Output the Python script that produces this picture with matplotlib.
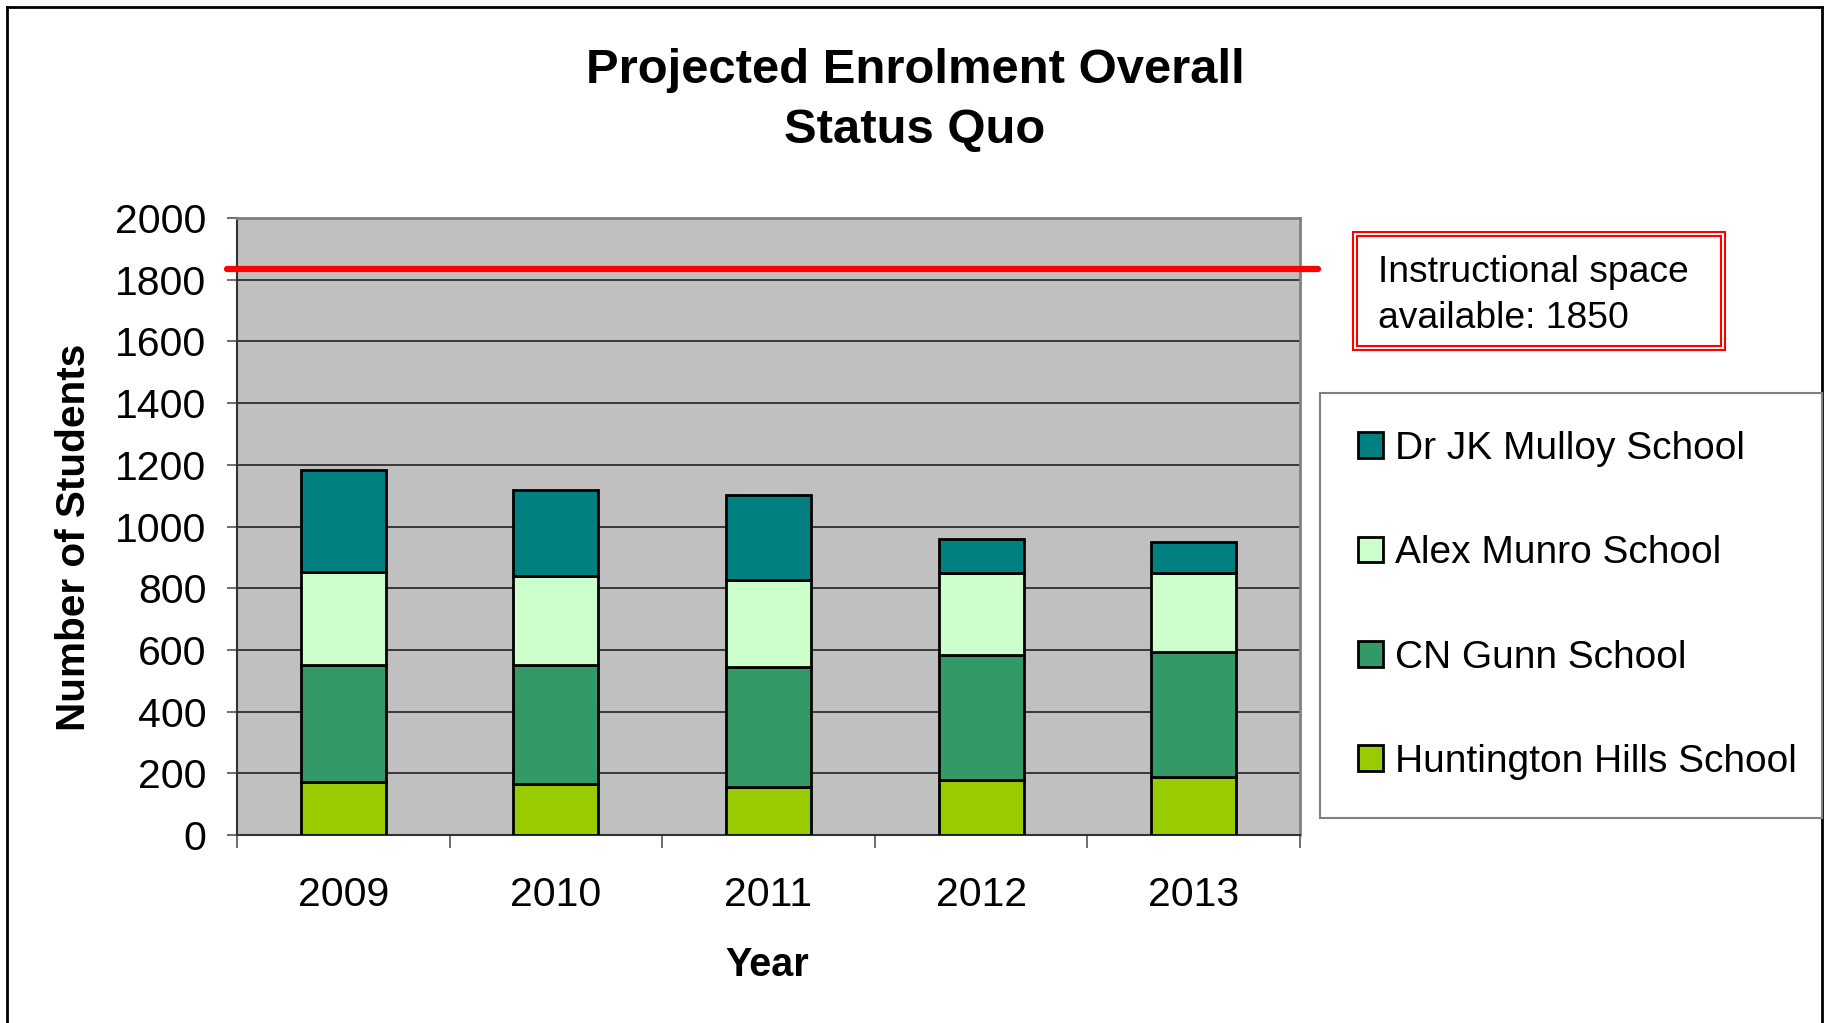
import matplotlib
matplotlib.use("Agg")
import matplotlib.pyplot as plt
from matplotlib.patches import Rectangle, Patch
from matplotlib.lines import Line2D
import numpy as np

# ---- data ----
years = ["2009", "2010", "2011", "2012", "2013"]
huntington = [172, 164, 155, 179, 188]
cn_gunn = [378, 386, 388, 406, 404]
alex_munro = [303, 289, 284, 263, 256]
mulloy = [330, 279, 275, 112, 103]
series_names = ["Huntington Hills School", "CN Gunn School", "Alex Munro School", "Dr JK Mulloy School"]
series_colors = ["#99CC00", "#339966", "#CCFFCC", "#008080"]
capacity_line = 1835
capacity_text = "Instructional space\navailable: 1850"
yticks = [0, 200, 400, 600, 800, 1000, 1200, 1400, 1600, 1800, 2000]

FONT = "Liberation Sans"
plt.rcParams["font.family"] = [FONT, "DejaVu Sans"]

W, H = 1828, 1023
fig = plt.figure(figsize=(W / 100, H / 100), dpi=100)
fig.patch.set_facecolor("white")

def fx(px):
    return px / W

def fy(py):
    return 1 - py / H

# figure border (open at bottom)
fig.add_artist(Line2D([fx(7), fx(7)], [fy(7), 0], transform=fig.transFigure, color="black", lw=2))
fig.add_artist(Line2D([fx(7), fx(1822)], [fy(7), fy(7)], transform=fig.transFigure, color="black", lw=2))
fig.add_artist(Line2D([fx(1822), fx(1822)], [fy(7), 0], transform=fig.transFigure, color="black", lw=2))

ax_l, ax_r, ax_t, ax_b = 237, 1300, 218, 835
ax = fig.add_axes([fx(ax_l), fy(ax_b), fx(ax_r - ax_l), (ax_b - ax_t) / H])
ax.set_facecolor("#C0C0C0")

x = np.arange(len(years))
series = [huntington, cn_gunn, alex_munro, mulloy]
bottom = np.zeros(len(years))
for vals, name, col in zip(series, series_names, series_colors):
    ax.bar(x, vals, width=0.4, bottom=bottom, color=col, edgecolor="black",
           linewidth=2, label=name, zorder=3)
    bottom = bottom + np.array(vals)

ax.set_xlim(-0.5, len(years) - 0.5)
ax.set_ylim(0, 2000)
ax.set_yticks(yticks)
ax.set_yticklabels([str(v) for v in yticks], fontsize=29.5, fontfamily=FONT)
ax.yaxis.grid(True, color="#222222", linewidth=1.2, zorder=1)
ax.set_axisbelow(True)

# x ticks at category boundaries
ax.set_xticks(np.arange(len(years) + 1) - 0.5)
ax.set_xticklabels([])
ax.tick_params(axis="x", length=9, width=1.2, color="#555555", direction="out")
ax.tick_params(axis="y", length=7, width=1.2, color="#555555", direction="out", pad=15)
for xi, lab in zip(x, years):
    ax.text(xi, -0.098, lab, transform=ax.get_xaxis_transform(), ha="center", va="center",
            fontsize=29.5, fontfamily=FONT)

for side in ["top", "right"]:
    ax.spines[side].set_color("#808080")
    ax.spines[side].set_linewidth(2)
for side in ["left", "bottom"]:
    ax.spines[side].set_color("#333333")
    ax.spines[side].set_linewidth(1.5)

# capacity line (extends past axes)
ax.plot([-0.547, 4.585], [capacity_line, capacity_line], color="#FF0000", lw=4.5,
        solid_capstyle="round", clip_on=False, zorder=5)

# titles
fig.text(fx(915), fy(71), "Projected Enrolment Overall", ha="center", va="center",
         fontsize=35.3, fontweight="bold", fontfamily=FONT)
fig.text(fx(915), fy(130), "Status Quo", ha="center", va="center",
         fontsize=35.3, fontweight="bold", fontfamily=FONT)
fig.text(fx(74), fy(537), "Number of Students", ha="center", va="center", rotation=90,
         fontsize=29.2, fontweight="bold", fontfamily=FONT)
fig.text(fx(767), fy(965), "Year", ha="center", va="center",
         fontsize=28.5, fontweight="bold", fontfamily=FONT)

# annotation box with double red border
bx0, by0, bx1, by1 = 1353, 232, 1725, 350
fig.add_artist(Rectangle((fx(bx0), fy(by1)), fx(bx1 - bx0), (by1 - by0) / H,
                         transform=fig.transFigure, facecolor="white", edgecolor="#FF0000", lw=1.5))
fig.add_artist(Rectangle((fx(bx0 + 4), fy(by1 - 4)), fx(bx1 - bx0 - 8), (by1 - by0 - 8) / H,
                         transform=fig.transFigure, facecolor="none", edgecolor="#FF0000", lw=1.5))
fig.text(fx(1378), fy(273), capacity_text.split("\n")[0], ha="left", va="center",
         fontsize=26.8, fontfamily=FONT)
fig.text(fx(1378), fy(319), capacity_text.split("\n")[1], ha="left", va="center",
         fontsize=26.8, fontfamily=FONT)

# legend
handles = [Patch(facecolor=c, edgecolor="black", linewidth=2) for c in series_colors][::-1]
labels = series_names[::-1]
lx0, ly0, lx1, ly1 = 1320, 393, 1822, 816
leg = fig.legend(handles, labels, loc="upper left",
                 bbox_to_anchor=(fx(lx0), fy(ly1), fx(lx1 - lx0), (ly1 - ly0) / H),
                 bbox_transform=fig.transFigure, mode="expand", borderaxespad=0,
                 prop={"family": FONT, "size": 28}, frameon=True, fancybox=False,
                 edgecolor="#808080", framealpha=1, borderpad=0.97, labelspacing=1.76,
                 handlelength=0.65, handleheight=0.65, handletextpad=0.3)
leg.get_frame().set_linewidth(1.5)

fig.savefig("out.png", dpi=100, facecolor="white")
